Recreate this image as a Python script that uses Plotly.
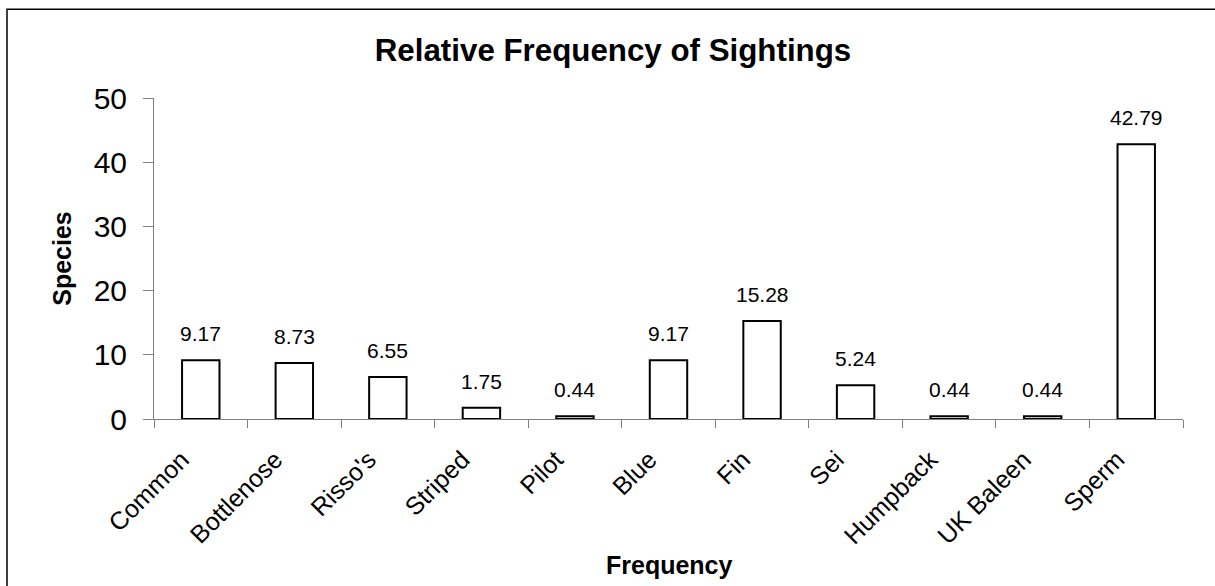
import plotly.graph_objects as go

species = ["Common", "Bottlenose", "Risso's", "Striped", "Pilot", "Blue",
           "Fin", "Sei", "Humpback", "UK Baleen", "Sperm"]
frequency = [9.17, 8.73, 6.55, 1.75, 0.44, 9.17, 15.28, 5.24, 0.44, 0.44, 42.79]
y_ticks = [0, 10, 20, 30, 40, 50]

W, H = 1215, 586
ML, MR, MT, MB = 154, 32, 98, 166.5
PW = W - ML - MR
PH = H - MT - MB

FONT = "Liberation Sans, Arial, sans-serif"

fig = go.Figure()
fig.add_trace(go.Bar(
    x=species, y=frequency,
    marker=dict(color="white", line=dict(color="black", width=2)),
    showlegend=False, hoverinfo="x+y",
))

for s, v in zip(species, frequency):
    fig.add_annotation(x=s, y=v, text=f"{v:.2f}", showarrow=False,
                       yanchor="bottom", yshift=13,
                       font=dict(family=FONT, size=21, color="black"))

# x-axis title
fig.add_annotation(xref="paper", yref="paper", x=(669.5 - ML) / PW,
                   y=-(582 - (H - MB)) / PH, xanchor="center", yanchor="bottom",
                   text="<b>Frequency</b>", showarrow=False,
                   font=dict(family=FONT, size=25, color="black"))

# outer chart frame
fig.add_shape(type="rect", xref="paper", yref="paper",
              x0=(7 - ML) / PW, x1=(W + 10 - ML) / PW,
              y0=-(H + 10 - MT - PH) / PH, y1=1 + (MT - 9) / PH,
              line=dict(color="black", width=1.5), fillcolor="rgba(0,0,0,0)",
              layer="below")

fig.update_layout(
    width=W, height=H,
    margin=dict(l=ML, r=MR, t=MT, b=MB, autoexpand=False),
    paper_bgcolor="white", plot_bgcolor="white",
    bargap=0.6,
    font=dict(family=FONT, color="black"),
    title=dict(text="<b>Relative Frequency of Sightings</b>",
               x=613 / W, xref="container", xanchor="center",
               y=1 - 50 / H, yref="container", yanchor="middle",
               font=dict(family=FONT, size=31.3, color="black")),
    xaxis=dict(
        type="category", tickangle=-45, tickson="boundaries",
        ticks="outside", ticklen=8, tickcolor="#808080", tickwidth=1,
        showline=True, linecolor="#808080", linewidth=1,
        showgrid=False, zeroline=False, automargin=False,
        tickfont=dict(family=FONT, size=25, color="black"),
        ticklabelstandoff=15, ticklabelshift=-19,
    ),
    yaxis=dict(
        range=[0, 50], tickvals=y_ticks,
        ticks="outside", ticklen=10, tickcolor="#808080", tickwidth=1,
        showline=True, linecolor="#808080", linewidth=1,
        showgrid=False, zeroline=False, automargin=False,
        tickfont=dict(family=FONT, size=30, color="black"),
        ticklabelstandoff=10,
        title=dict(text="<b>Species</b>", standoff=14,
                   font=dict(family=FONT, size=25, color="black")),
    ),
)

fig.write_html("out.html")
